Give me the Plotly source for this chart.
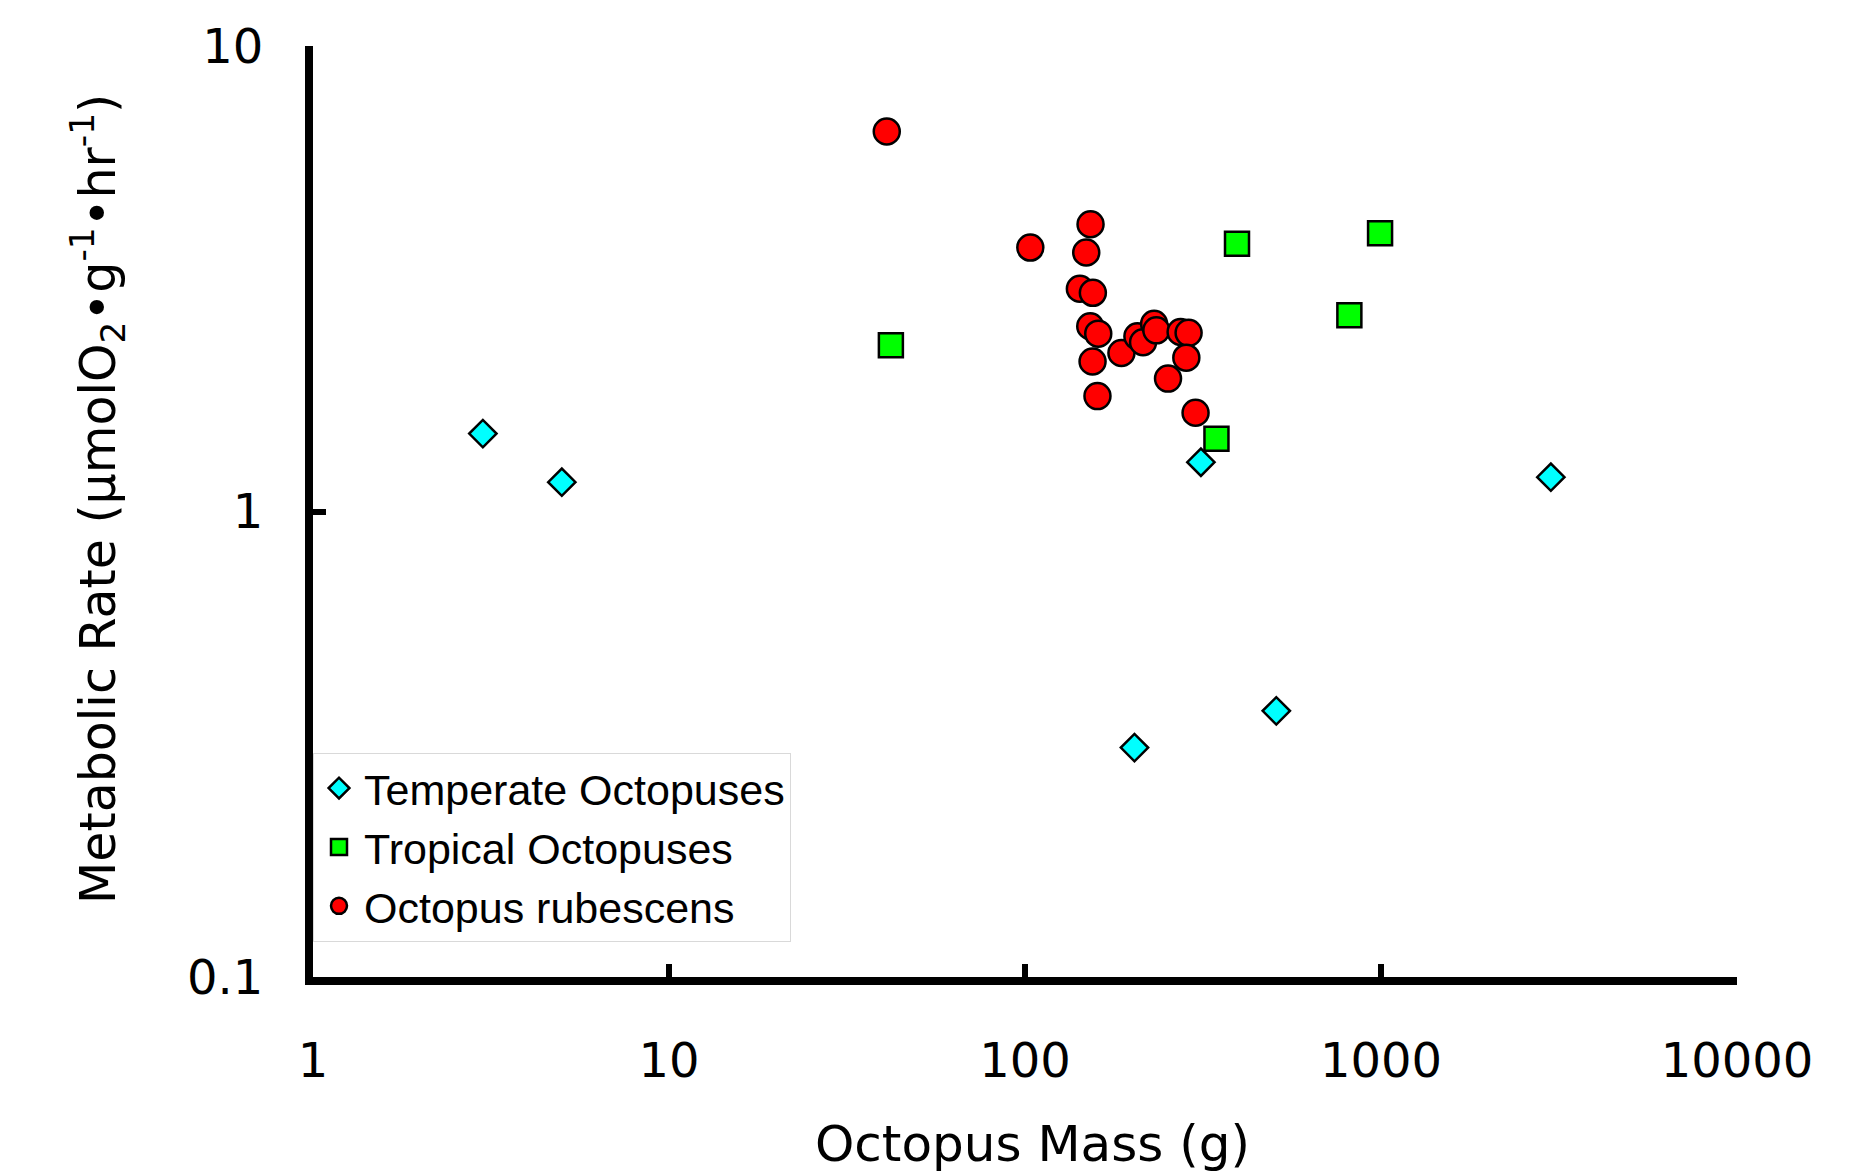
import plotly.graph_objects as go

# ---- data ----
temperate_mass = [3, 5, 203, 312, 508, 3000]
temperate_rate = [1.47, 1.156, 0.311, 1.276, 0.373, 1.185]

tropical_mass = [42.0, 394, 994, 815, 345]
tropical_rate = [2.275, 3.76, 3.96, 2.64, 1.434]

rubescens_mass = [40.9, 152.8, 103.5, 148.6, 142.6, 155.1, 152.5, 160.6, 154.8, 159.8,
                  186.6, 206.9, 214.6, 230.5, 233.9, 273.6, 288.1, 283.9, 252.2, 301.4]
rubescens_rate = [6.55, 4.14, 3.69, 3.60, 3.01, 2.95, 2.50, 2.41, 2.10, 1.77,
                  2.19, 2.378, 2.31, 2.53, 2.45, 2.43, 2.42, 2.14, 1.93, 1.63]

x_tickvals = [1, 10, 100, 1000, 10000]
x_ticktext = ["1", "10", "100", "1000", "10000"]
y_tickvals = [0.1, 1, 10]
y_ticktext = ["0.1", "1", "10"]

x_title = "Octopus Mass (g)"
y_title = "Metabolic Rate (µmolO<sub>2</sub>•g<sup>-1</sup>•hr<sup>-1</sup>)"

AXFONT = "DejaVu Sans, Verdana, sans-serif"
LEGFONT = "Liberation Sans, Arial, sans-serif"

fig = go.Figure()
fig.add_trace(go.Scatter(
    x=temperate_mass, y=temperate_rate, mode="markers", name="Temperate Octopuses",
    legendgroup="a",
    marker=dict(symbol="diamond", size=21, color="#00FFFF", line=dict(color="black", width=2.5)),
))
fig.add_trace(go.Scatter(
    x=tropical_mass, y=tropical_rate, mode="markers", name="Tropical Octopuses",
    legendgroup="b",
    marker=dict(symbol="square", size=24, color="#00FF00", line=dict(color="black", width=2.5)),
))
fig.add_trace(go.Scatter(
    x=rubescens_mass, y=rubescens_rate, mode="markers", name="Octopus rubescens",
    legendgroup="c",
    marker=dict(symbol="circle", size=26, color="#FF0000", line=dict(color="black", width=2.5)),
))

L, R, T, B = 313, 123, 46, 199
W, H = 1860, 1176
pw, ph = W - L - R, H - T - B

fig.update_layout(
    width=W, height=H,
    margin=dict(l=L, r=R, t=T, b=B),
    paper_bgcolor="white", plot_bgcolor="white",
    font=dict(family=AXFONT, color="black"),
    showlegend=True,
    legend=dict(
        x=0.0, y=0.038, xanchor="left", yanchor="bottom",
        bgcolor="white", bordercolor="#d9d9d9", borderwidth=1,
        font=dict(family=LEGFONT, size=43, color="black"),
        tracegroupgap=0, itemwidth=40,
    ),
    xaxis=dict(
        type="log", range=[0, 4],
        tickvals=x_tickvals, ticktext=x_ticktext,
        ticks="inside", ticklen=13, tickwidth=6, tickcolor="black",
        showline=True, linewidth=8, linecolor="black",
        showgrid=False, zeroline=False,
        tickfont=dict(family=AXFONT, size=48, color="black"),
        ticklabelstandoff=34,
    ),
    yaxis=dict(
        type="log", range=[-1, 1],
        tickvals=y_tickvals, ticktext=y_ticktext,
        ticks="inside", ticklen=13, tickwidth=6, tickcolor="black",
        showline=True, linewidth=8, linecolor="black",
        showgrid=False, zeroline=False,
        tickfont=dict(family=AXFONT, size=48, color="black"),
        ticklabelstandoff=32,
    ),
    annotations=[
        dict(text=x_title, xref="paper", yref="paper",
             x=(1032 - L) / pw, y=-(1144 - (H - B)) / ph,
             xanchor="center", yanchor="middle", showarrow=False,
             font=dict(family=AXFONT, size=50, color="black")),
        dict(text=y_title, xref="paper", yref="paper", textangle=-90,
             x=(97 - L) / pw, y=((H - B) - 499) / ph,
             xanchor="center", yanchor="middle", showarrow=False,
             font=dict(family=AXFONT, size=49, color="black")),
    ],
)

fig.write_html("out.html")
